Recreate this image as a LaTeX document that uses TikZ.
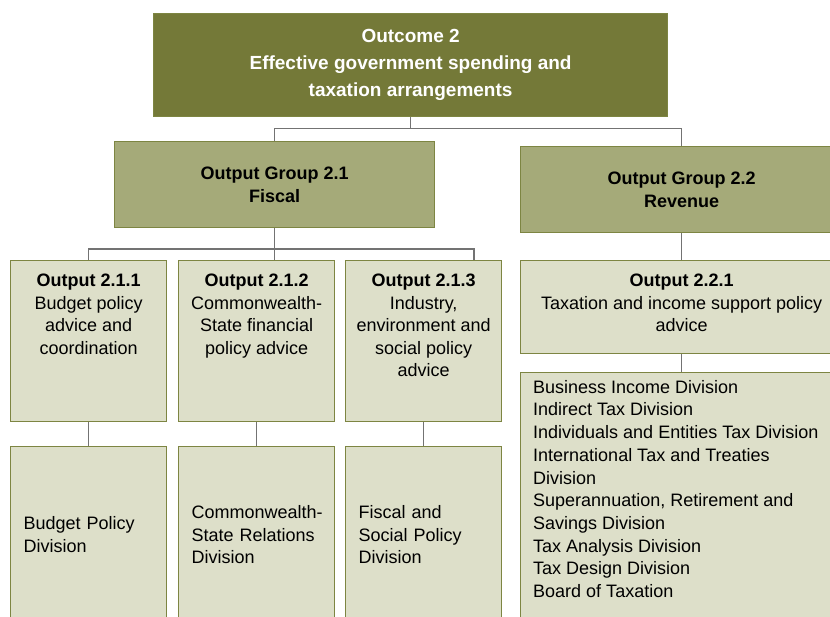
\documentclass[tikz,border=0pt]{standalone}
\usepackage{fontspec}
\setmainfont{Liberation Sans}
\usetikzlibrary{positioning, calc}

\definecolor{outcomeOlive}{RGB}{116,121,56}
\definecolor{groupOlive}{RGB}{165,170,121}
\definecolor{paleOlive}{RGB}{221,223,201}
\definecolor{edgeOlive}{RGB}{125,133,66}
\definecolor{linkGray}{RGB}{115,115,115}

\begin{document}
\begin{tikzpicture}[x=1pt, y=1pt,
    every node/.style={font=\fontsize{18}{22.5}\selectfont, inner sep=0pt},
    outcomebox/.style={draw=edgeOlive, fill=outcomeOlive, text=white, anchor=north west,
      align=center, line width=1.2pt, font=\fontsize{19}{27}\selectfont\bfseries},
    groupbox/.style={draw=edgeOlive, fill=groupOlive, anchor=north west, align=center,
      line width=1.2pt, font=\fontsize{18}{23}\selectfont\bfseries},
    outbox/.style={draw=edgeOlive, fill=paleOlive, anchor=north west, line width=1.2pt},
    divbox/.style={outbox, align=left, text width=130pt, inner xsep=13pt},
    link/.style={draw=linkGray, line width=1.2pt}]

  \useasboundingbox (0,0) rectangle (830,617);
  \clip (0,0) rectangle (830,617);

  % Outcome and output groups
  \node[outcomebox, minimum width=514pt, minimum height=103pt] (out) at (153,604)
    {Outcome 2\\Effective government spending and\\taxation arrangements};
  \node[groupbox, minimum width=320pt, minimum height=86pt] (g21) at (114,476)
    {Output Group 2.1\\Fiscal};
  \node[groupbox, minimum width=322pt, minimum height=86pt] (g22) at (520,471)
    {Output Group 2.2\\Revenue};

  % Outputs
  \node[outbox, minimum width=156pt, minimum height=161pt] (o211) at (10,357) {};
  \node[outbox, minimum width=156pt, minimum height=161pt] (o212) at (178,357) {};
  \node[outbox, minimum width=156pt, minimum height=161pt] (o213) at (345,357) {};
  \node[outbox, minimum width=322pt, minimum height=93pt] (o221) at (520,357) {};

  \node[below=14pt of o211.north, align=center] (o211t)
    {\textbf{Output 2.1.1}\\Budget policy\\advice and\\coordination};
  \node[below=14pt of o212.north, align=center] (o212t)
    {\textbf{Output 2.1.2}\\Commonwealth-\\State financial\\policy advice};
  \node[below=14pt of o213.north, align=center] (o213t)
    {\textbf{Output 2.1.3}\\Industry,\\environment and\\social policy\\advice};
  \node[below=14pt of o221.north, align=center] (o221t)
    {\textbf{Output 2.2.1}\\Taxation and income support policy\\advice};

  % Divisions
  \node[divbox, minimum height=176pt] (d211) at (10,171) {Budget Policy\\Division};
  \node[divbox, minimum height=176pt] (d212) at (178,171)
    {\mbox{Commonwealth-}\\State Relations\\Division};
  \node[divbox, minimum height=176pt] (d213) at (345,171)
    {Fiscal and\\Social Policy\\Division};
  \node[outbox, minimum width=322pt, minimum height=270pt] (d22) at (520,245) {};
  \node[below right=8pt and 13pt of d22.north west, align=left, font=\fontsize{18}{22.7}\selectfont] (d22t)
    {Business Income Division\\Indirect Tax Division\\Individuals and Entities Tax Division\\
     International Tax and Treaties\\Division\\Superannuation, Retirement and\\
     Savings Division\\Tax Analysis Division\\Tax Design Division\\Board of Taxation};

  % Connectors
  \draw[link] (out.south) -- ++(0,-11) -| (g21.north);
  \draw[link] (out.south) -- ++(0,-11) -| (g22.north);
  \draw[link] (g21.south) -- (g21.south |- o212.north);
  \coordinate (o213in) at ($(o213.north west)+(129,0)$);
  \draw[link] (o211.north) -- ++(0,11) -| (o213in);
  \draw[link] (g22.south) -- (o221.north);
  \draw[link] (o221.south) -- (d22.north);
  \foreach \i in {211,212,213}
    \draw[link] (o\i.south) -- (d\i.north);

\end{tikzpicture}
\end{document}
